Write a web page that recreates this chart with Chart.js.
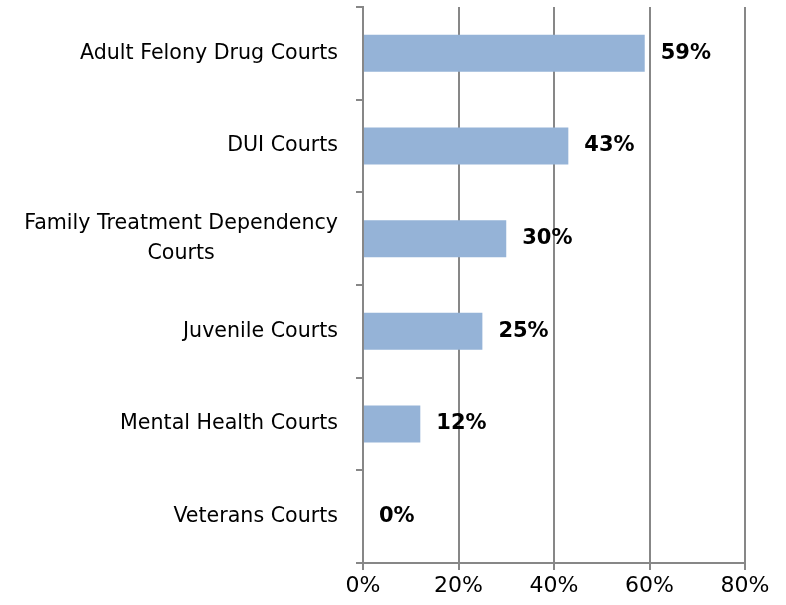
<script src="https://cdn.jsdelivr.net/npm/chart.js"></script>
<style>
  body { margin: 0; background: #fff; }
</style>
<div style="width:786px; height:605px;">
  <canvas id="myChart"></canvas>
</div>
<script>
// Data
const labels = [
  'Adult Felony Drug Courts',
  'DUI Courts',
  ['Family Treatment Dependency', 'Courts'],
  'Juvenile Courts',
  'Mental Health Courts',
  'Veterans Courts'
];
const values = [59, 43, 30, 25, 12, 0];
const xTicks = [0, 20, 40, 60, 80];

const FONT = "'DejaVu Sans', sans-serif";

// category labels (right-aligned block, lines centred) + value labels
const textPlugin = {
  id: 'textPlugin',
  afterDatasetsDraw(chart) {
    const ctx = chart.ctx;
    const yScale = chart.scales.y;
    const meta = chart.getDatasetMeta(0);
    ctx.save();
    ctx.fillStyle = '#000';
    ctx.textBaseline = 'middle';

    // category names
    ctx.font = '20.6px ' + FONT;
    ctx.textAlign = 'center';
    const right = yScale.right - 25;
    labels.forEach(function (lab, i) {
      const lines = Array.isArray(lab) ? lab : [lab];
      const w = Math.max.apply(null, lines.map(l => ctx.measureText(l).width));
      const cx = right - w / 2;
      const cy = yScale.getPixelForValue(i);
      const lh = 30;
      lines.forEach(function (l, k) {
        ctx.fillText(l, cx, cy + (k - (lines.length - 1) / 2) * lh);
      });
    });

    // value labels
    ctx.font = 'bold 21px ' + FONT;
    ctx.textAlign = 'left';
    meta.data.forEach(function (bar, i) {
      ctx.fillText(values[i] + '%', bar.x + 16, bar.y);
    });
    ctx.restore();
  }
};

const config = {
  type: 'bar',
  data: {
    labels: labels,
    datasets: [{
      data: values,
      backgroundColor: '#95B3D7',
      borderWidth: 0,
      categoryPercentage: 0.8,
      barPercentage: 0.5
    }]
  },
  options: {
    indexAxis: 'y',
    responsive: true,
    maintainAspectRatio: false,
    animation: false,
    layout: { padding: { top: 7, right: 41, left: 0, bottom: 0 } },
    plugins: {
      legend: { display: false },
      tooltip: { enabled: false }
    },
    scales: {
      x: {
        min: 0,
        max: 80,
        afterBuildTicks(scale) {
          scale.ticks = xTicks.map(v => ({ value: v }));
        },
        afterFit(scale) { scale.height = 42; },
        grid: { color: '#878787', lineWidth: 2, tickLength: 7 },
        border: { color: '#878787', width: 2 },
        ticks: {
          color: '#000',
          font: { family: FONT, size: 22 },
          padding: 3,
          callback: v => v + '%'
        }
      },
      y: {
        afterFit(scale) {
          scale.width = 363;
          scale.paddingTop = 0;
          scale.paddingBottom = 0;
        },
        grid: { drawOnChartArea: false, color: '#878787', lineWidth: 2, tickLength: 7, offset: true },
        border: { color: '#878787', width: 2 },
        ticks: { display: false }
      }
    }
  },
  plugins: [textPlugin]
};

var myChart = new Chart(document.getElementById('myChart'), config);
</script>
